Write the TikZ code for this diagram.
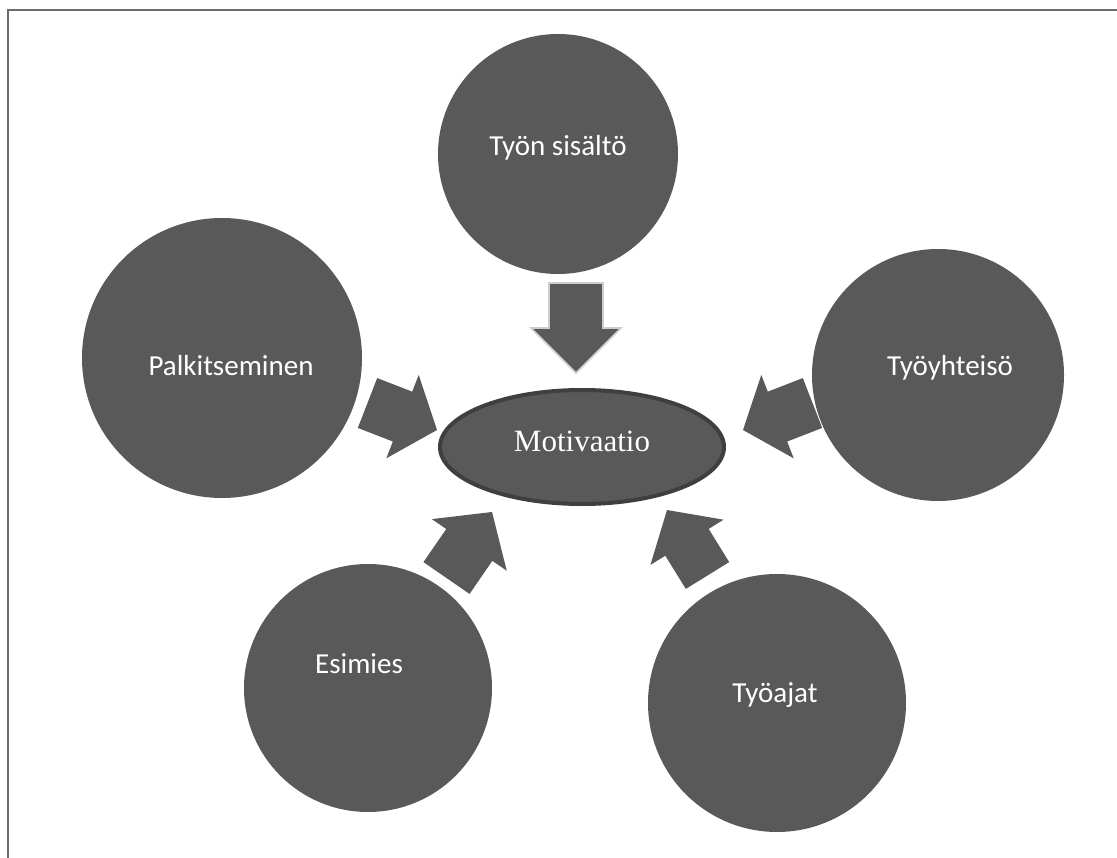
\documentclass[tikz,border=0pt]{standalone}
\usepackage{fontspec}
\setmainfont{Liberation Serif}
\newfontfamily\labelfont{Carlito}
\usetikzlibrary{calc,shapes.geometric}

\definecolor{discfill}{HTML}{595959}
\definecolor{rimdark}{HTML}{3F3F3F}
\definecolor{arrowrim}{HTML}{CDCDCD}
\definecolor{framegray}{HTML}{6B6B6B}

\tikzset{
  disc/.style={circle, fill=discfill, inner sep=0pt, outer sep=0pt},
  disclabel/.style={anchor=base, text=white, inner sep=0pt,
    font=\labelfont\fontsize{29}{34}\selectfont},
  hub/.style={ellipse, fill=discfill, draw=rimdark, line width=4pt,
    inner sep=0pt, minimum width=284pt, minimum height=114pt},
  hublabel/.style={anchor=base, text=white, inner sep=0pt,
    font=\fontsize{31}{36}\selectfont},
  arrowbody/.style={fill=discfill},
  frameline/.style={draw=framegray, line width=2pt},
}

% Block arrow from a tail centre to a tip.
% #1 extra style, #2 name, #3 tail, #4 tip, #5 half shaft width,
% #6 half head width, #7 head length
\newcommand\blockarrow[7][]{%
  \coordinate (#2-b) at ($(#4)!#7!(#3)$);
  \path[arrowbody,#1]
    ($(#3)!#5!90:(#4)$) -- ($(#2-b)!#5!90:(#4)$) -- ($(#2-b)!#6!90:(#4)$)
    -- (#4)
    -- ($(#2-b)!#6!-90:(#4)$) -- ($(#2-b)!#5!-90:(#4)$) -- ($(#3)!#5!-90:(#4)$)
    -- cycle;
}

\begin{document}
\begin{tikzpicture}[x=1pt, y=-1pt]
  \useasboundingbox (0,0) rectangle (1117,858);

  % open frame: top and left edges only
  \draw[frameline] (1117,10) -- (8,10) -- (8,858);

  % outer factors
  \node[disc, minimum size=240pt] (tyon) at (558,154) {};
  \node[disc, minimum size=280pt] (palk) at (222,358) {};
  \node[disc, minimum size=252pt] (tyoy) at (938,375) {};
  \node[disc, minimum size=248pt] (esim) at (368,688) {};
  \node[disc, minimum size=258pt] (tyoa) at (777,703) {};

  \node[disclabel] (tyon-t) at (558,156) {Työn sisältö};
  \node[disclabel] (palk-t) at (231,376) {Palkitseminen};
  \node[disclabel] (tyoy-t) at (950,376) {Työyhteisö};
  \node[disclabel] (esim-t) at (359,673) {Esimies};
  \node[disclabel] (tyoa-t) at (775,702) {Työajat};

  % centre
  \node[hub] (motiv) at (582,447) {};
  \node[hublabel] (motiv-t) at (582,452) {Motivaatio};

  % arrow ends
  \coordinate (aT-tail) at (576,283);  \coordinate (aT-tip) at (576,373);
  \coordinate (aL-tail) at (367.5,403); \coordinate (aL-tip) at (437,430);
  \coordinate (aR-tail) at (812.5,403); \coordinate (aR-tip) at (743,430);
  \coordinate (aBL-tail) at (446.5,578); \coordinate (aBL-tip) at (492,512);
  \coordinate (aBR-tail) at (707.5,575.5); \coordinate (aBR-tip) at (667,510);

  \blockarrow[draw=arrowrim, line width=1.6pt]{aT}{aT-tail}{aT-tip}{27pt}{45pt}{45pt}
  \blockarrow{aL}{aL-tail}{aL-tip}{26.75pt}{44.75pt}{37pt}
  \blockarrow{aR}{aR-tail}{aR-tip}{26.75pt}{44.75pt}{37pt}
  \blockarrow{aBL}{aBL-tail}{aBL-tip}{28pt}{45.5pt}{40pt}
  \blockarrow{aBR}{aBR-tail}{aBR-tip}{25.5pt}{43pt}{38pt}
\end{tikzpicture}
\end{document}
